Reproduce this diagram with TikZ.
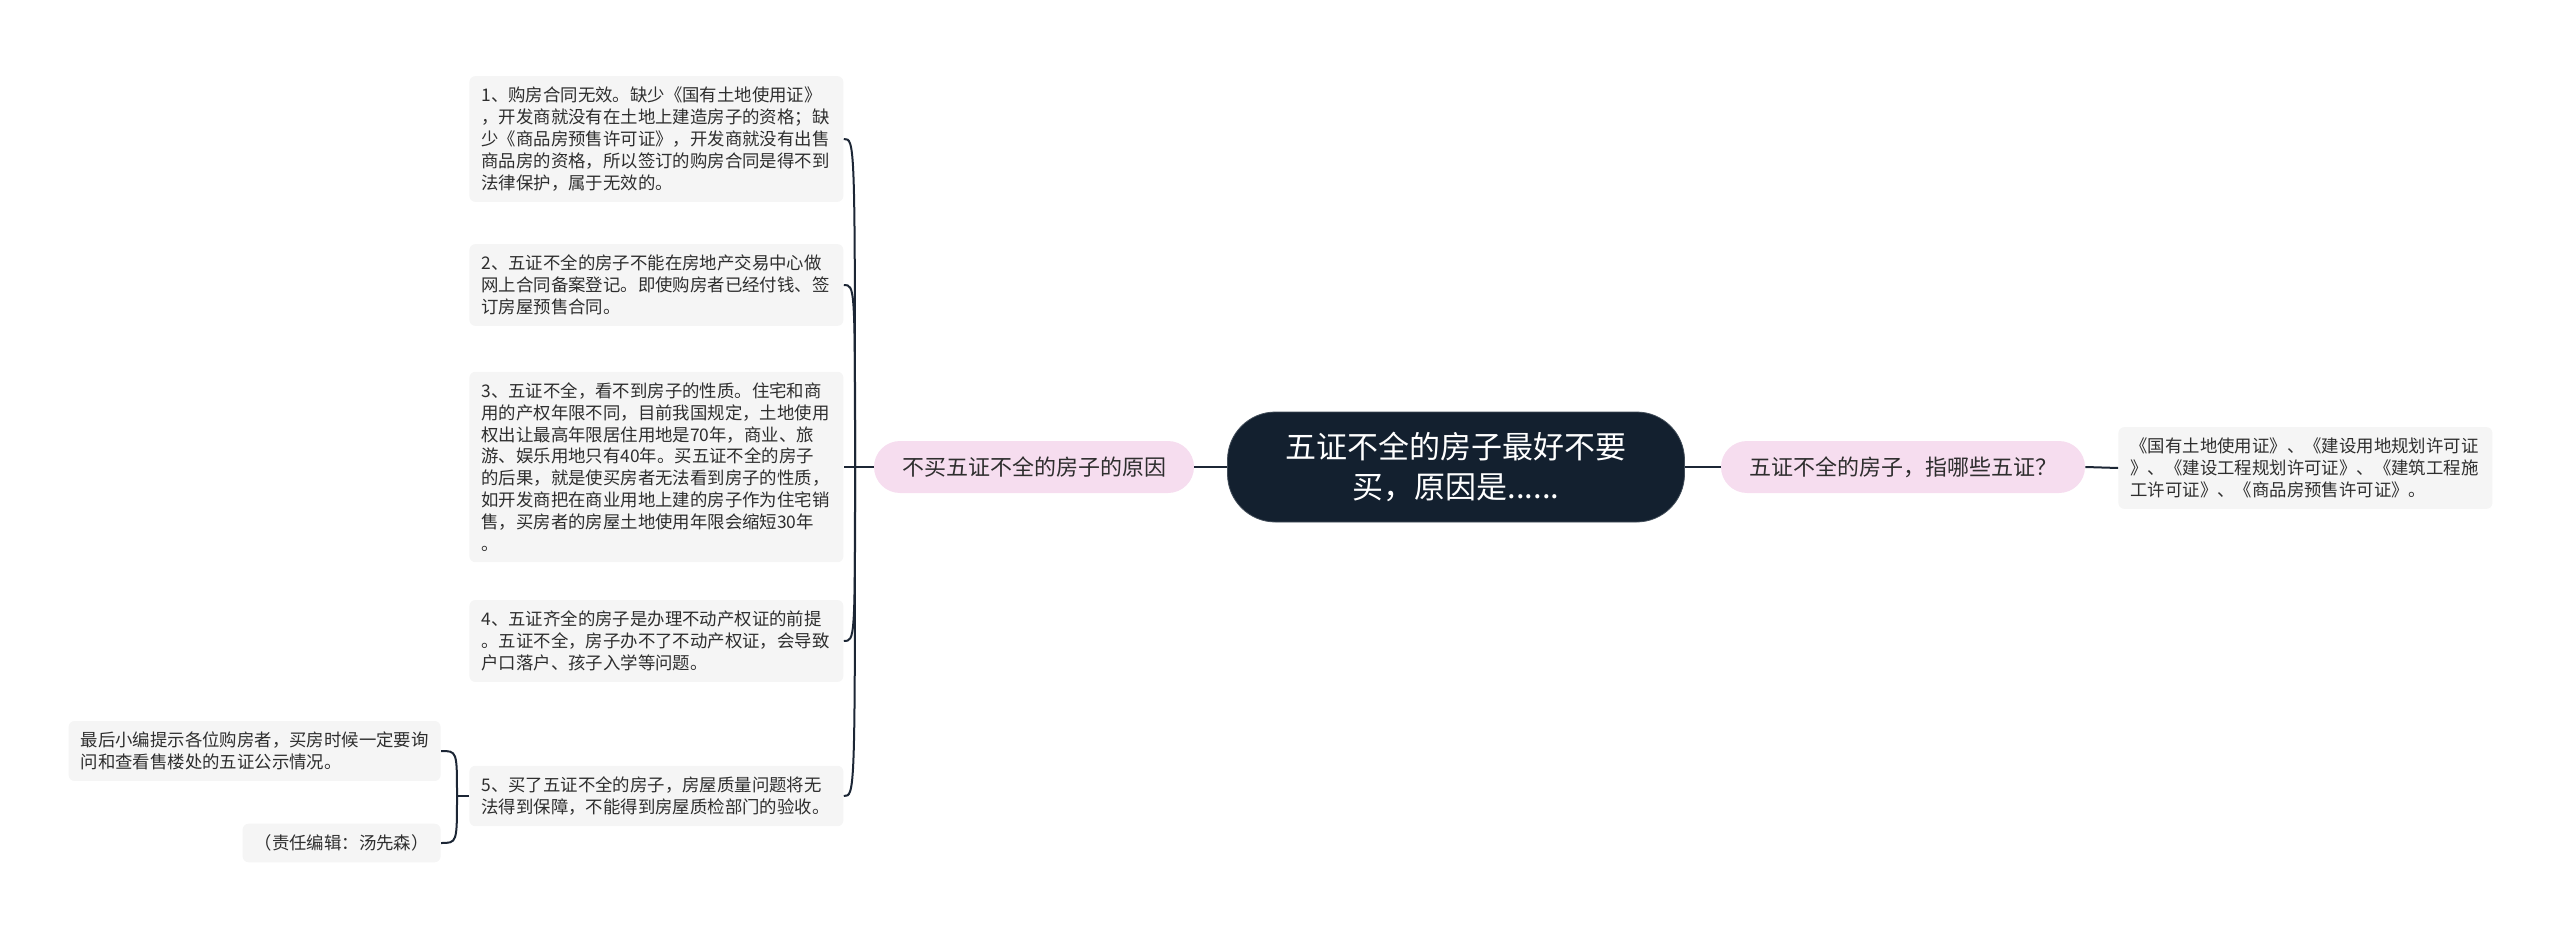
\documentclass[tikz,border=0pt]{standalone}
\usepackage{fontspec}
\setmainfont{Noto Sans CJK SC}
\usepackage{xcolor}
\usepackage{tikz}
\usetikzlibrary{positioning}

\definecolor{rootfill}{HTML}{13202F}
\definecolor{pinkfill}{HTML}{F6DDEF}
\definecolor{leaffill}{HTML}{F5F5F5}
\definecolor{linkcol}{HTML}{1C2635}
\definecolor{textcol}{HTML}{2E2E2E}

\begin{document}
\begin{tikzpicture}[
    x=0.5pt, y=-0.5pt,
    rootnode/.style={fill=rootfill, draw=rootfill!80!white, rounded corners=24pt, align=center, text=white, minimum width=228.5pt, minimum height=55pt, font=\fontsize{15.5}{19.6}\selectfont},
    topic/.style={fill=pinkfill, rounded corners=13pt, minimum height=26pt, inner xsep=14pt, text=textcol, font=\fontsize{11}{13}\selectfont},
    leaf/.style={fill=leaffill, rounded corners=3pt, align=left, text width=175pt, inner xsep=6pt, inner ysep=5.5pt, text=textcol, font=\fontsize{8.7}{10.9}\selectfont},
    note/.style={fill=leaffill, rounded corners=3pt, align=left, inner xsep=6pt, inner ysep=5.5pt, text=textcol, font=\fontsize{8.7}{10.9}\selectfont},
    link/.style={draw=linkcol, line width=1pt}
  ]
    \useasboundingbox (0,0) rectangle (2560,936);

    \node[rootnode] (root) at (1456,467) {五证不全的房子最好不要\\买，原因是......};
    \node[topic] (why) at (1034,467) {不买五证不全的房子的原因};
    \node[topic] (which) at (1903,467) {五证不全的房子，指哪些五证？};

    \node[leaf, anchor=west] (certs) at (2118,468) {《国有土地使用证》、《建设用地规划许可证\\》、《建设工程规划许可证》、《建筑工程施\\工许可证》、《商品房预售许可证》。};

    \node[leaf, anchor=west] (r1) at (469,139) {1、购房合同无效。缺少《国有土地使用证》\\，开发商就没有在土地上建造房子的资格；缺\\少《商品房预售许可证》，开发商就没有出售\\商品房的资格，所以签订的购房合同是得不到\\法律保护，属于无效的。};
    \node[leaf, anchor=west] (r2) at (469,285) {2、五证不全的房子不能在房地产交易中心做\\网上合同备案登记。即使购房者已经付钱、签\\订房屋预售合同。};
    \node[leaf, anchor=west] (r3) at (469,467) {3、五证不全，看不到房子的性质。住宅和商\\用的产权年限不同，目前我国规定，土地使用\\权出让最高年限居住用地是70年，商业、旅\\游、娱乐用地只有40年。买五证不全的房子\\的后果，就是使买房者无法看到房子的性质，\\如开发商把在商业用地上建的房子作为住宅销\\售，买房者的房屋土地使用年限会缩短30年\\。};
    \node[leaf, anchor=west] (r4) at (469,641) {4、五证齐全的房子是办理不动产权证的前提\\。五证不全，房子办不了不动产权证，会导致\\户口落户、孩子入学等问题。};
    \node[leaf, anchor=west] (r5) at (469,796) {5、买了五证不全的房子，房屋质量问题将无\\法得到保障，不能得到房屋质检部门的验收。};

    \node[note, anchor=east] (tip) at (441,751) {最后小编提示各位购房者，买房时候一定要询\\问和查看售楼处的五证公示情况。};
    \node[note, anchor=east] (editor) at (441,843) {（责任编辑：汤先森）};

    \coordinate (fork) at (855,467);
    \coordinate (subfork) at (457,796);

    \draw[link] (root) -- (why);
    \draw[link] (root) -- (which);
    \draw[link] (which.east) -- (certs.west);
    \draw[link] (why.west) -- (fork);
    \draw[link] (fork) .. controls (fork |- r1.east) .. (r1.east);
    \draw[link] (fork) .. controls (fork |- r2.east) .. (r2.east);
    \draw[link] (fork) -- (r3.east);
    \draw[link] (fork) .. controls (fork |- r4.east) .. (r4.east);
    \draw[link] (fork) .. controls (fork |- r5.east) .. (r5.east);
    \draw[link] (r5.west) -- (subfork);
    \draw[link] (subfork) .. controls (subfork |- tip.east) .. (tip.east);
    \draw[link] (subfork) .. controls (subfork |- editor.east) .. (editor.east);
  \end{tikzpicture}
\end{document}
